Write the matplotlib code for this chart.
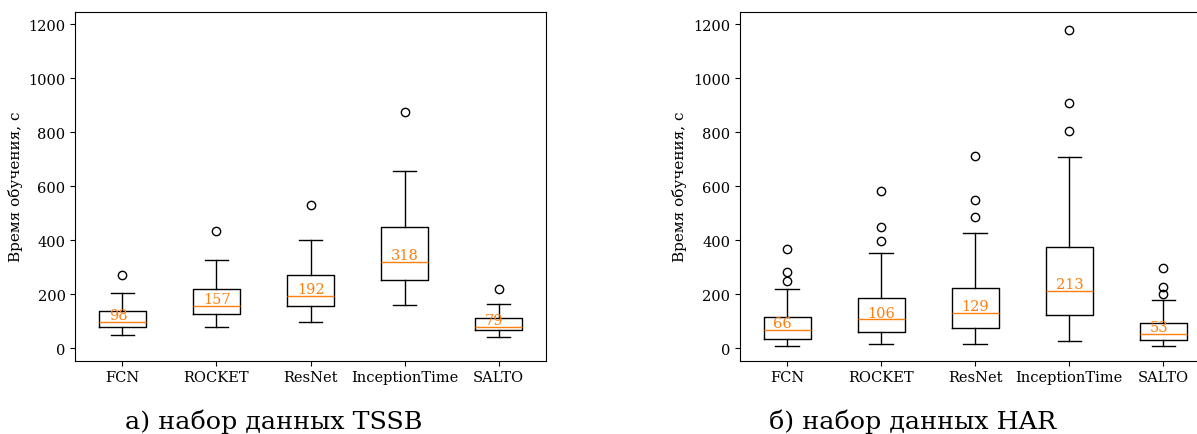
import matplotlib
matplotlib.use("Agg")
import matplotlib.pyplot as plt

plt.rcParams['font.family'] = ['DejaVu Serif']
plt.rcParams['font.size'] = 10.5

models = ["FCN", "ROCKET", "ResNet", "InceptionTime", "SALTO"]

# TSSB: whisker low, Q1, median, Q3, whisker high, outliers
tssb_low = [50, 78, 95, 160, 41]
tssb_q1 = [78, 127, 154, 252, 65]
tssb_med = [98, 157, 192, 318, 79]
tssb_q3 = [139, 220, 271, 449, 112]
tssb_high = [204, 325, 399, 657, 165]
tssb_fliers = [[269], [433], [529], [874], [219]]

# HAR
har_low = [9, 14, 16, 27, 9]
har_q1 = [35, 60, 73, 121, 30]
har_med = [66, 106, 129, 213, 53]
har_q3 = [114, 184, 224, 373, 93]
har_high = [219, 351, 427, 708, 177]
har_fliers = [[250, 281, 366], [398, 449, 582], [485, 547, 711],
              [803, 910, 1179], [201, 228, 295]]

captions = ["а) набор данных TSSB", "б) набор данных HAR"]
ylabel = "Время обучения, с"


def make_stats(low, q1, med, q3, high, fliers):
    stats = []
    for i in range(len(models)):
        stats.append({"label": models[i], "whislo": low[i], "q1": q1[i],
                      "med": med[i], "q3": q3[i], "whishi": high[i],
                      "fliers": fliers[i]})
    return stats


fig = plt.figure(figsize=(11.97, 4.35), dpi=100)
ax1 = fig.add_axes([0.0629, 0.1685, 0.393, 0.8023])
ax2 = fig.add_axes([0.6182, 0.1685, 0.393, 0.8023])

panels = [
    (ax1, make_stats(tssb_low, tssb_q1, tssb_med, tssb_q3, tssb_high, tssb_fliers), tssb_med),
    (ax2, make_stats(har_low, har_q1, har_med, har_q3, har_high, har_fliers), har_med),
]

for ax, stats, meds in panels:
    ax.bxp(stats, showfliers=True, widths=0.5)
    for i, m in enumerate(meds):
        ax.annotate(str(m), (i + 1 - 0.145, m), xytext=(0, 2),
                    textcoords="offset points", ha="left", va="baseline",
                    color="C1", fontsize=10.5)
    ax.set_ylim(-47, 1247)
    ax.set_xlim(0.5, 5.5)
    ax.set_yticks([0, 200, 400, 600, 800, 1000, 1200])
    ax.set_ylabel(ylabel, fontsize=11)

fig.text(274 / 1197, 1 - 429 / 435, captions[0], ha="center", va="baseline", fontsize=18.3)
fig.text(913 / 1197, 1 - 429 / 435, captions[1], ha="center", va="baseline", fontsize=18.3)

fig.savefig("out.png", dpi=100)
